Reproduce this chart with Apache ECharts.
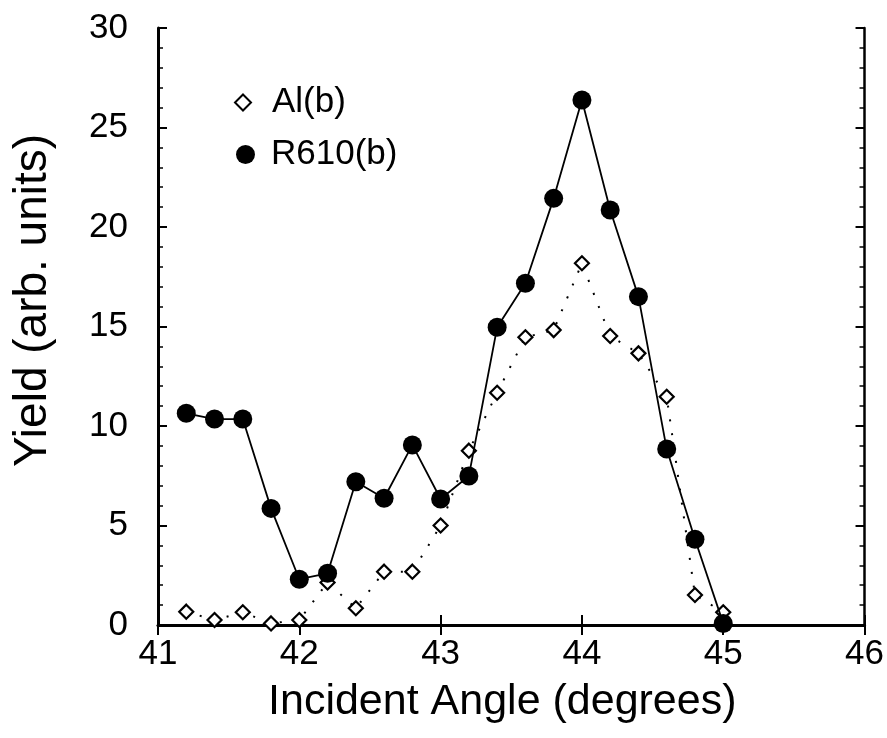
<!DOCTYPE html>
<html>
<head>
<meta charset="utf-8">
<script src="https://cdn.jsdelivr.net/npm/echarts@6/dist/echarts.min.js"></script>
<style>
html,body{margin:0;padding:0;background:#fff;}
#chart{width:887px;height:738px;}
</style>
</head>
<body>
<div id="chart"></div>
<script>
const angles = [41.2, 41.4, 41.6, 41.8, 42.0, 42.2, 42.4, 42.6, 42.8, 43.0, 43.2, 43.4, 43.6, 43.8, 44.0, 44.2, 44.4, 44.6, 44.8, 45.0];
const alYield = [0.67, 0.25, 0.64, 0.08, 0.25, 2.14, 0.84, 2.68, 2.68, 5.0, 8.76, 11.67, 14.46, 14.82, 18.18, 14.52, 13.65, 11.47, 1.51, 0.64];
const r610Yield = [10.64, 10.35, 10.35, 5.86, 2.3, 2.6, 7.2, 6.37, 9.05, 6.33, 7.49, 14.96, 17.17, 21.44, 26.38, 20.85, 16.5, 8.84, 4.31, 0.08];
const seriesNames = ['Al(b)', 'R610(b)'];
const xTitle = 'Incident Angle (degrees)';
const yTitle = 'Yield (arb. units)';

const FONT = "'Liberation Sans', Arial, Helvetica, sans-serif";
const pair = (xs, ys) => xs.map((x, i) => [x, ys[i]]);

const chart = echarts.init(document.getElementById('chart'), null, {renderer: 'canvas'});
const axisLine = {show: true, lineStyle: {color: '#000', width: 3}};
chart.setOption({
  animation: false,
  backgroundColor: '#fff',
  grid: {left: 158, right: 18, top: 28, bottom: 113, containLabel: false},
  legend: [
    {data: [{name: seriesNames[0], icon: 'diamond'}], left: 229, top: 80, itemWidth: 16, itemHeight: 16,
     textStyle: {fontFamily: FONT, fontSize: 35, color: '#000', padding: [0, 0, 0, 16]}, selectedMode: false},
    {data: [{name: seriesNames[1], icon: 'circle'}], left: 231, top: 132, itemWidth: 19, itemHeight: 19,
     textStyle: {fontFamily: FONT, fontSize: 35, color: '#000', padding: [0, 0, 0, 11]}, selectedMode: false}
  ],
  xAxis: [
    {type: 'value', min: 41, max: 46, interval: 1, position: 'bottom',
     name: xTitle, nameLocation: 'middle', nameGap: 56,
     nameTextStyle: {fontFamily: FONT, fontSize: 43, color: '#000', padding: [0, 18, 0, 0]},
     axisLine: axisLine,
     axisTick: {show: true, inside: true, length: 10, lineStyle: {color: '#000', width: 2}},
     axisLabel: {fontFamily: FONT, fontSize: 35, color: '#000', margin: 12},
     splitLine: {show: false}},
    {type: 'value', min: 41, max: 46, interval: 1, position: 'top',
     axisLine: {show: true, lineStyle: {color: '#000', width: 2.5}},
     axisTick: {show: true, inside: true, length: 10, lineStyle: {color: '#000', width: 2}},
     axisLabel: {show: false}, splitLine: {show: false}}
  ],
  yAxis: [
    {type: 'value', min: 0, max: 30, interval: 5, position: 'left',
     name: yTitle, nameLocation: 'middle', nameGap: 102, nameRotate: 90,
     nameTextStyle: {fontFamily: FONT, fontSize: 46, color: '#000', padding: [0, 0, 0, 52]},
     axisLine: axisLine,
     axisTick: {show: true, inside: true, length: 9, lineStyle: {color: '#000', width: 2}},
     minorTick: {show: true, splitNumber: 5, length: 5, lineStyle: {color: '#000', width: 1.5}},
     axisLabel: {fontFamily: FONT, fontSize: 35, color: '#000', margin: 30},
     splitLine: {show: false}},
    {type: 'value', min: 0, max: 30, interval: 5, position: 'right',
     axisLine: {show: true, lineStyle: {color: '#000', width: 2.5}},
     axisTick: {show: true, inside: true, length: 9, lineStyle: {color: '#000', width: 2}},
     minorTick: {show: true, splitNumber: 5, length: 5, lineStyle: {color: '#000', width: 1.5}},
     axisLabel: {show: false}, splitLine: {show: false}}
  ],
  series: [
    {name: seriesNames[0], type: 'line', data: pair(angles, alYield), clip: false,
     symbol: 'diamond', symbolSize: 14, z: 2,
     itemStyle: {color: '#fff', borderColor: '#000', borderWidth: 2.2},
     lineStyle: {color: '#000', width: 2, type: [2, 12]}},
    {name: seriesNames[1], type: 'line', data: pair(angles, r610Yield), clip: false,
     symbol: 'circle', symbolSize: 19, z: 3,
     itemStyle: {color: '#000', borderColor: '#000', borderWidth: 0},
     lineStyle: {color: '#000', width: 1.8}}
  ]
});
</script>
</body>
</html>
